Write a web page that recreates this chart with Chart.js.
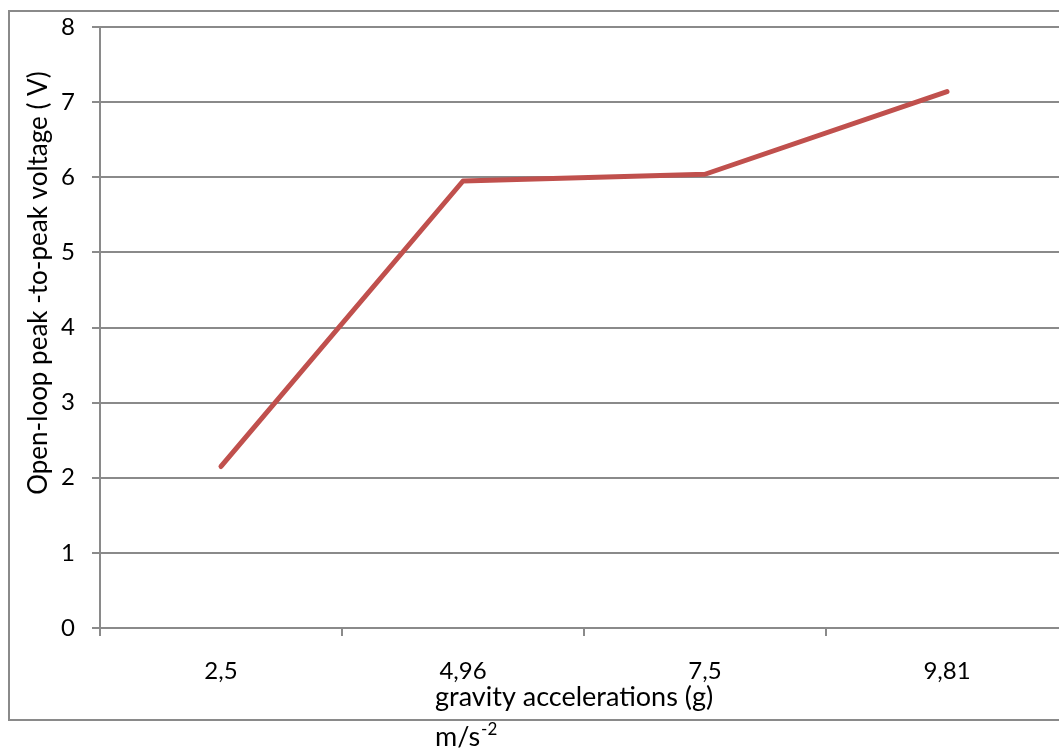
<!DOCTYPE html>
<html>
<head>
<meta charset="utf-8">
<script src="https://cdn.jsdelivr.net/npm/chart.js@4.4.0/dist/chart.umd.min.js"></script>
<style>
  html, body { margin: 0; padding: 0; background: #fff; overflow: hidden; }
  #wrap { width: 1059px; height: 751px; overflow: hidden; position: relative; }
  canvas { display: block; }
</style>
</head>
<body>
<div id="wrap"><canvas id="c" width="1100" height="751"></canvas></div>
<script>
const categories = ["2,5", "4,96", "7,5", "9,81"];
const voltage = [2.15, 5.95, 6.04, 7.14];
const yTicks = [0, 1, 2, 3, 4, 5, 6, 7, 8];
const yTitle = "Open-loop peak -to-peak voltage ( V)";
const xTitle = "gravity accelerations (g)";
const xUnit = "m/s";
const xUnitSup = "-2";

const FONT = "Lato";
const GRID = "#8a8a8a";

const decor = {
  id: "decor",
  beforeDraw(chart) {
    const ctx = chart.ctx;
    ctx.save();
    ctx.fillStyle = "#fff";
    ctx.fillRect(0, 0, chart.width, chart.height);
    ctx.strokeStyle = GRID;
    ctx.lineWidth = 2;
    ctx.strokeRect(9, 11, chart.width + 20, 709);
    ctx.restore();
  },
  afterDraw(chart) {
    const ctx = chart.ctx;
    ctx.save();
    ctx.fillStyle = "#000";
    ctx.font = "26px " + FONT;
    ctx.textAlign = "center";
    ctx.textBaseline = "middle";
    ctx.translate(39, 283);
    ctx.rotate(-Math.PI / 2);
    ctx.fillText(yTitle, 0, 0);
    ctx.restore();
    ctx.save();
    ctx.fillStyle = "#000";
    ctx.font = "27px " + FONT;
    ctx.textAlign = "left";
    ctx.textBaseline = "alphabetic";
    ctx.fillText(xTitle, 435, 706);
    ctx.fillText(xUnit, 435, 746);
    const w = ctx.measureText(xUnit).width;
    ctx.font = "17px " + FONT;
    ctx.fillText(xUnitSup, 435 + w + 1, 735);
    ctx.restore();
  }
};

new Chart(document.getElementById("c"), {
  type: "line",
  data: {
    labels: categories,
    datasets: [{
      data: voltage,
      borderColor: "#C0504D",
      borderWidth: 5,
      pointRadius: 0,
      tension: 0,
      borderCapStyle: "round",
      borderJoinStyle: "round",
      fill: false
    }]
  },
  options: {
    responsive: false,
    animation: false,
    devicePixelRatio: 1,
    layout: { padding: { top: 27, right: 32, left: 0, bottom: 0 } },
    plugins: { legend: { display: false }, tooltip: { enabled: false }, title: { display: false } },
    scales: {
      x: {
        type: "category",
        offset: true,
        grid: {
          offset: true,
          drawOnChartArea: false,
          drawTicks: true,
          tickLength: 8,
          color: GRID,
          lineWidth: 2
        },
        border: { display: false },
        ticks: {
          color: "#000",
          font: { family: FONT, size: 24 },
          padding: 21,
          maxRotation: 0
        },
        afterFit(s) { s.height = 751 - 628; s.paddingLeft = 0; s.paddingRight = 0; }
      },
      y: {
        min: 0,
        max: 8,
        afterBuildTicks(s) { s.ticks = yTicks.map(v => ({ value: v })); },
        grid: {
          color: GRID,
          lineWidth: 2,
          drawTicks: true,
          tickLength: 8
        },
        border: { display: true, color: GRID, width: 2 },
        ticks: {
          color: "#000",
          font: { family: FONT, size: 24 },
          padding: 17
        },
        afterFit(s) { s.width = 100; s.paddingTop = 0; s.paddingBottom = 0; }
      }
    }
  },
  plugins: [decor]
});
</script>
</body>
</html>
